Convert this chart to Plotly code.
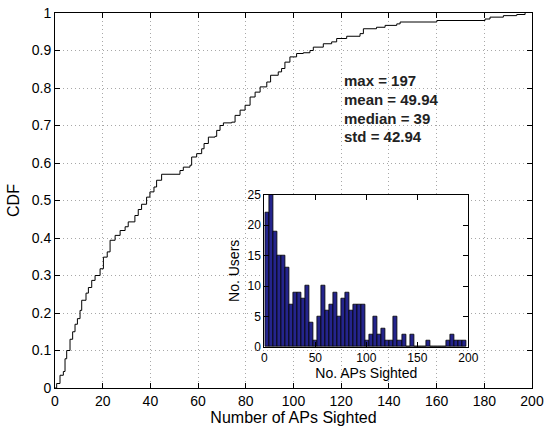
import numpy as np
import plotly.graph_objects as go

# ---- data ----
cdf_x = [0, 0.7, 2.1, 3.5, 4.2, 4.9, 6.3, 7.4, 8.4, 9.4, 10.5, 11.2, 13, 14, 15.4, 16.8,
         18.9, 20.3, 21.9, 23.1, 25.2, 27.3, 29.4, 30.7, 33.5, 34.9, 36.3, 38.4, 39.8,
         41.5, 42.6, 44.7, 52.4, 53.8, 56.6, 57.3, 59.4, 61.5, 62.5, 64.3, 67.1, 67.8,
         69.2, 70.6, 74.1, 75.5, 77.6, 79.7, 81.8, 83.9, 86, 88.8, 90.4, 93.6, 95, 96.4,
         98.5, 101.3, 104.1, 106.9, 108.3, 112.5, 116, 118.1, 122.3, 127.9, 129.3,
         134.8, 138.4, 143.3, 144.7, 160.1, 180.3, 182.4, 188, 193.6, 197.1]
cdf_y = [0, 0.012, 0.034, 0.044, 0.078, 0.10, 0.13, 0.15, 0.17, 0.185, 0.207, 0.234,
         0.253, 0.268, 0.287, 0.30, 0.318, 0.349, 0.363, 0.394, 0.407, 0.42, 0.43, 0.443,
         0.46, 0.476, 0.49, 0.509, 0.523, 0.536, 0.554, 0.57, 0.58, 0.589, 0.594, 0.616,
         0.625, 0.638, 0.652, 0.669, 0.671, 0.687, 0.70, 0.707, 0.709, 0.727, 0.741,
         0.754, 0.776, 0.789, 0.803, 0.816, 0.834, 0.843, 0.852, 0.869, 0.883, 0.892,
         0.894, 0.90, 0.909, 0.918, 0.923, 0.932, 0.938, 0.945, 0.958, 0.962, 0.967,
         0.971, 0.976, 0.98, 0.984, 0.989, 0.993, 0.996, 1.0]

hist_counts = [22, 25, 19, 15, 15, 13, 7, 9, 9, 8, 10, 4, 1, 5, 10, 6, 7, 9, 5, 8, 9, 6, 7, 7, 7,
               1, 2, 5, 2, 3, 1, 1, 5, 1, 2, 0, 2, 0, 0, 0, 1, 0, 0, 0, 0, 1, 2, 1, 1, 1]
hist_lo = 0.5
hist_hi = 198.0

stats_labels = ["max = 197", "mean = 49.94", "median = 39", "std = 42.94"]

main_xticks = [0, 20, 40, 60, 80, 100, 120, 140, 160, 180, 200]
main_yticks = [0, 0.1, 0.2, 0.3, 0.4, 0.5, 0.6, 0.7, 0.8, 0.9, 1]
inset_xticks = [0, 50, 100, 150, 200]
inset_yticks = [0, 5, 10, 15, 20, 25]

# ---- figure ----
nb = len(hist_counts)
bw = (hist_hi - hist_lo) / nb
centers = [hist_lo + bw * (i + 0.5) for i in range(nb)]

FONT = "Liberation Sans, Arial, Helvetica, sans-serif"
GRID = dict(showgrid=True, gridcolor="#a8a8a8", griddash="1px,3px", gridwidth=1)

fig = go.Figure()
fig.add_trace(go.Scatter(x=cdf_x, y=cdf_y, mode="lines", line=dict(color="black", width=1, shape="hv"),
                         xaxis="x", yaxis="y", showlegend=False, hoverinfo="skip"))
fig.add_trace(go.Bar(x=centers, y=hist_counts, width=bw,
                     marker=dict(color="#24248c", line=dict(color="black", width=0.8)),
                     xaxis="x2", yaxis="y2", showlegend=False))

axis_common = dict(showline=True, linecolor="black", linewidth=1, mirror="ticks", ticks="inside",
                   ticklen=5, tickcolor="black", zeroline=False, automargin=False)

fig.update_layout(
    width=545, height=428,
    margin=dict(l=55, r=13, t=13, b=40),
    paper_bgcolor="white", plot_bgcolor="white",
    font=dict(family=FONT, color="black"),
    bargap=0,
    xaxis=dict(domain=[0, 1], range=[0, 200], tickvals=main_xticks, tickfont=dict(size=14),
               title=dict(text="Number of APs Sighted", font=dict(size=16), standoff=2),
               **GRID, **axis_common),
    yaxis=dict(domain=[0, 1], range=[0, 1], tickvals=main_yticks, tickfont=dict(size=14),
               ticktext=[str(v) if v not in (0, 1) else str(int(v)) for v in main_yticks],
               title=dict(text="CDF", font=dict(size=16), standoff=8),
               **GRID, **axis_common),
    xaxis2=dict(domain=[0.4388, 0.8665], range=[0, 200], anchor="y2", tickvals=inset_xticks,
                tickfont=dict(size=12), showgrid=False,
                title=dict(text="No. APs Sighted", font=dict(size=14), standoff=0), **axis_common),
    yaxis2=dict(domain=[0.1093, 0.5157], range=[0, 25], anchor="x2", tickvals=inset_yticks,
                tickfont=dict(size=12), showgrid=False,
                title=dict(text="No. Users", font=dict(size=14), standoff=4), **axis_common),
)

stat_y = [0.82, 0.77, 0.72, 0.672]
for lab, yy in zip(stats_labels, stat_y):
    fig.add_annotation(x=120.3, y=yy, xref="x", yref="y", text="<b>" + lab + "</b>", showarrow=False,
                       xanchor="left", yanchor="middle", font=dict(size=15, family=FONT, color="#222"))

fig.write_html("out.html", config={"displayModeBar": False},
               post_script="document.body.style.margin='0';document.body.style.overflow='hidden';")
